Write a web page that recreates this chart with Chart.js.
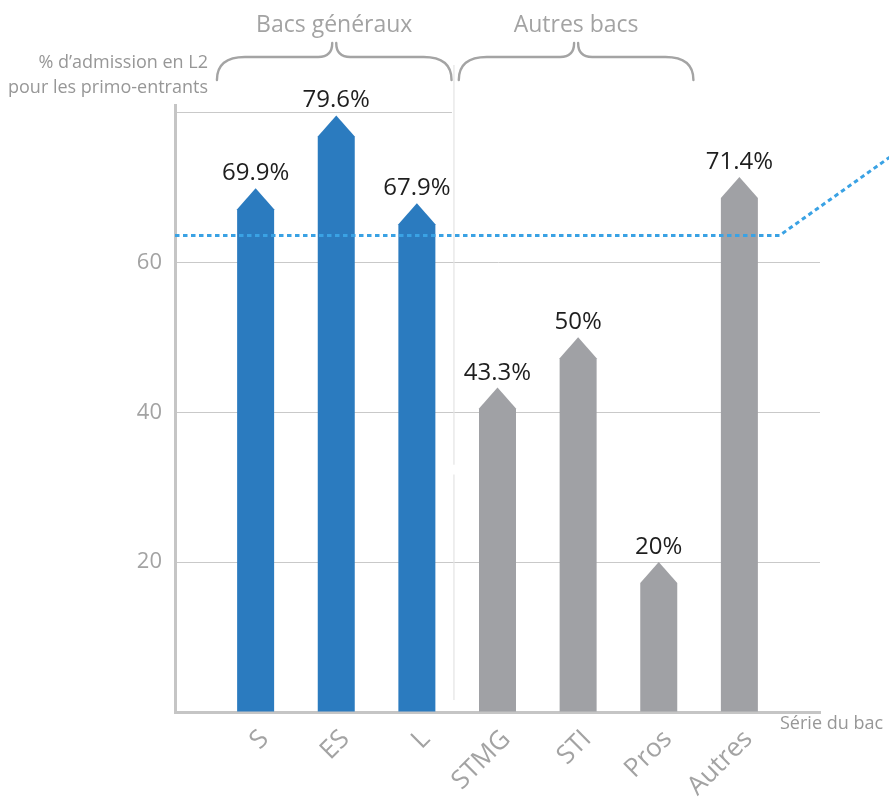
<!DOCTYPE html>
<html><head><meta charset="utf-8">
<style>html,body{margin:0;padding:0;background:#fff}#wrap{width:889px;height:798px}</style>
<script src="https://cdn.jsdelivr.net/npm/chart.js@4.4.1/dist/chart.umd.min.js"></script>
</head><body><div id="wrap"><canvas id="c" width="889" height="798"></canvas></div>
<script>
const categories = ['S','ES','L','STMG','STI','Pros','Autres'];
const admissionRates = [69.9,79.6,67.9,43.3,50,20,71.4];
const valueLabels = ['69.9%','79.6%','67.9%','43.3%','50%','20%','71.4%'];
const seriesGroup = ['general','general','general','autres','autres','autres','hors'];
const groupTitles = [{title:'Bacs généraux', first:0, last:2},{title:'Autres bacs', first:3, last:5}];
const averageLine = [{x:-1,y:63.6},{x:6.5,y:63.6},{x:7.9,y:74.3}];
const yTickValues = [20,40,60];
const yAxisTitle = ['% d’admission en L2','pour les primo-entrants'];
const xAxisTitle = 'Série du bac';

const FONT = "'Open Sans', 'Noto Sans', sans-serif";
const BLUE = '#2b7bbf', GREY = '#a0a1a5', TEXTGREY = '#a3a3a3';

const decor = {
  id: 'decor',
  beforeDatasetsDraw(chart) {
    const ctx = chart.ctx, xs = chart.scales.x, ys = chart.scales.y, ca = chart.chartArea;
    ctx.save();
    const sx = xs.getPixelForValue(2.46);
    ctx.strokeStyle = '#e4e4e4'; ctx.lineWidth = 1.2;
    ctx.beginPath();
    ctx.moveTo(sx, ca.top - 40); ctx.lineTo(sx, ys.getPixelForValue(33));
    ctx.moveTo(sx, ys.getPixelForValue(31.7)); ctx.lineTo(sx, ys.getPixelForValue(1.6));
    ctx.stroke();
    ctx.strokeStyle = '#c9c9c9'; ctx.lineWidth = 1;
    const gy = Math.round(ys.getPixelForValue(80)) + 0.5;
    ctx.beginPath(); ctx.moveTo(ca.left + 2, gy); ctx.lineTo(sx - 2, gy); ctx.stroke();
    const meta = chart.getDatasetMeta(0);
    meta.data.forEach((bar, i) => {
      const p = bar.getProps(['x','y','base','width'], true);
      const hw = p.width / 2, tip = 21;
      ctx.fillStyle = seriesGroup[i] === 'general' ? BLUE : GREY;
      ctx.beginPath();
      ctx.moveTo(p.x - hw, p.base);
      ctx.lineTo(p.x - hw, p.y + tip);
      ctx.lineTo(p.x, p.y);
      ctx.lineTo(p.x + hw, p.y + tip);
      ctx.lineTo(p.x + hw, p.base);
      ctx.closePath(); ctx.fill();
    });
    ctx.restore();
  },
  afterDraw(chart) {
    const ctx = chart.ctx, xs = chart.scales.x, ca = chart.chartArea;
    ctx.save();
    const meta = chart.getDatasetMeta(0);
    ctx.fillStyle = '#1e1e1e'; ctx.font = `24px ${FONT}`;
    ctx.textAlign = 'center'; ctx.textBaseline = 'alphabetic';
    meta.data.forEach((bar, i) => {
      const p = bar.getProps(['x','y'], true);
      ctx.fillText(valueLabels[i], p.x, p.y - 8);
    });
    const yTip = ca.top - 62, yMid = ca.top - 48, yEnd = ca.top - 25;
    ctx.strokeStyle = '#a4a4a4'; ctx.lineWidth = 2.4; ctx.lineCap = 'round';
    groupTitles.forEach(g => {
      const x1 = xs.getPixelForValue(g.first - 0.48), x2 = xs.getPixelForValue(g.last + 0.43);
      const xm = (x1 + x2) / 2;
      ctx.beginPath();
      ctx.moveTo(x1, yEnd);
      ctx.quadraticCurveTo(x1, yMid, x1 + 28, yMid);
      ctx.lineTo(xm - 16, yMid);
      ctx.quadraticCurveTo(xm - 2, yMid, xm - 2, yTip);
      ctx.moveTo(xm + 2, yTip);
      ctx.quadraticCurveTo(xm + 2, yMid, xm + 16, yMid);
      ctx.lineTo(x2 - 28, yMid);
      ctx.quadraticCurveTo(x2, yMid, x2, yEnd);
      ctx.stroke();
      ctx.fillStyle = TEXTGREY; ctx.font = `23px ${FONT}`;
      ctx.textAlign = 'center'; ctx.textBaseline = 'middle';
      ctx.fillText(g.title, xm, ca.top - 80);
    });
    ctx.fillStyle = '#979797'; ctx.font = `18px ${FONT}`;
    ctx.textAlign = 'right'; ctx.textBaseline = 'middle';
    ctx.fillText(yAxisTitle[0], ca.left + 33, ca.top - 42);
    ctx.fillText(yAxisTitle[1], ca.left + 33, ca.top - 17);
    ctx.textAlign = 'left';
    ctx.fillText(xAxisTitle, ca.right - 40, ca.bottom + 12);
    ctx.restore();
  }
};

new Chart(document.getElementById('c'), {
  data: {
    datasets: [
      { type: 'bar', data: admissionRates.map((v, i) => ({x: i, y: v})),
        backgroundColor: 'rgba(0,0,0,0)', barThickness: 37, order: 2 },
      { type: 'line', data: averageLine, borderColor: '#3aa2e4', borderWidth: 3,
        borderDash: [4.5, 3.5], pointRadius: 0, tension: 0, clip: false, order: 1 }
    ]
  },
  options: {
    responsive: false, animation: false, devicePixelRatio: 1,
    layout: { padding: { top: 105, right: 69, left: 0, bottom: 0 } },
    plugins: { legend: { display: false }, tooltip: { enabled: false } },
    scales: {
      x: {
        type: 'linear', min: -1, max: 7, offset: false,
        afterBuildTicks: s => { s.ticks = categories.map((c, i) => ({ value: i })); },
        ticks: { autoSkip: false, maxRotation: 45, minRotation: 45, padding: 4, labelOffset: 9,
          font: { family: FONT, size: 26 }, color: TEXTGREY,
          callback: v => categories[v] ?? '' },
        grid: { display: false },
        border: { display: true, color: '#c5c5c5', width: 3 },
        afterFit: s => { s.height = 86; }
      },
      y: {
        min: 0, max: 81, z: 1,
        afterBuildTicks: s => { s.ticks = [0, 20, 40, 60, 80].map(v => ({ value: v })); },
        ticks: { padding: 13, font: { family: FONT, size: 22 }, color: TEXTGREY,
          callback: v => yTickValues.includes(v) ? String(v) : '' },
        grid: { drawTicks: false, lineWidth: 1,
          color: c => (c.tick && yTickValues.includes(c.tick.value)) ? '#c9c9c9' : 'rgba(0,0,0,0)' },
        border: { color: '#c5c5c5', width: 3 },
        afterFit: s => { s.width = 175; }
      }
    }
  },
  plugins: [decor]
});
</script></body></html>
